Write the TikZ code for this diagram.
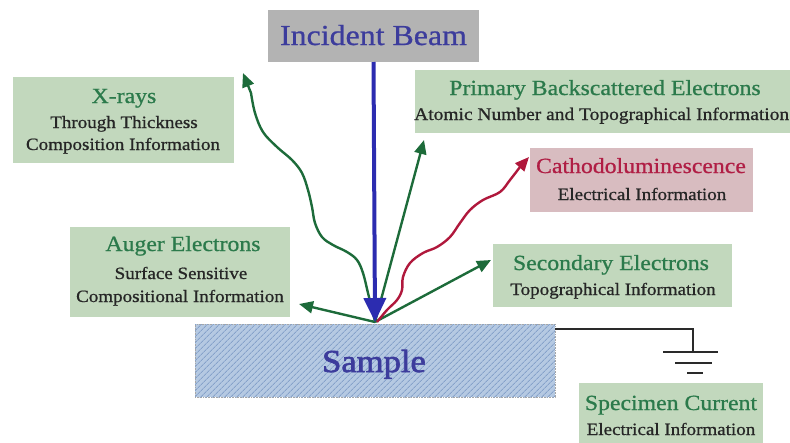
\documentclass[tikz,border=0pt]{standalone}
\usepackage{fontspec}
\setmainfont{Liberation Serif}[FakeStretch=1.1,FakeBold=0.8]
\newfontfamily\heavyserif{Liberation Serif}[FakeStretch=1.08,FakeBold=2]
\usetikzlibrary{arrows.meta,patterns.meta}

\definecolor{boxgreen}{HTML}{C2D8BD}
\definecolor{titlegreen}{HTML}{2B7A4B}
\definecolor{arrowgreen}{HTML}{1D6B3A}
\definecolor{boxpink}{HTML}{D8BCC0}
\definecolor{titlered}{HTML}{B01E45}
\definecolor{arrowred}{HTML}{B0183C}
\definecolor{boxgray}{HTML}{B3B3B3}
\definecolor{beamblue}{HTML}{2C2CB0}
\definecolor{textblue}{HTML}{3C3C9C}
\definecolor{samplefill}{HTML}{B5C9E2}
\definecolor{samplehatch}{HTML}{86A2CA}
\definecolor{bodytext}{HTML}{262626}
\definecolor{wire}{HTML}{2A2A2A}

\tikzset{
  panel/.style={rectangle, inner sep=0pt, outer sep=0pt, draw=none},
  greenpanel/.style={panel, fill=boxgreen},
  pinkpanel/.style={panel, fill=boxpink},
  graypanel/.style={panel, fill=boxgray},
  samplepanel/.style={panel, fill=samplefill, draw=gray!70, densely dotted, line width=0.6pt},
  title/.style={anchor=base, inner sep=0pt, font=\fontsize{21.6}{24}\selectfont, text=titlegreen},
  body/.style={anchor=base, inner sep=0pt, font=\fontsize{17.3}{20}\selectfont, text=bodytext},
  ray/.style={draw=arrowgreen, line width=2.4pt, -{Triangle[length=14pt,width=12pt]}},
  lightray/.style={draw=arrowred, line width=2.4pt, -{Triangle[length=14pt,width=12pt]}},
  beam/.style={draw=beamblue, line width=4pt, -{Triangle[length=24pt,width=22pt]}},
  groundbar/.style={draw=wire, line width=2.6pt},
}

\begin{document}
\begin{tikzpicture}[x=1pt,y=-1pt]
\useasboundingbox (0,0) rectangle (790,442);

% panels
\node[graypanel, minimum width=211pt, minimum height=52pt] (beambox) at (373.5,36) {};
\node[greenpanel, minimum width=221pt, minimum height=86pt] (xbox) at (123.5,120) {};
\node[greenpanel, minimum width=376pt, minimum height=63pt] (bsebox) at (603,101.5) {};
\node[pinkpanel, minimum width=223pt, minimum height=64pt] (clbox) at (641.5,180) {};
\node[greenpanel, minimum width=220pt, minimum height=90pt] (augerbox) at (180,272) {};
\node[greenpanel, minimum width=239pt, minimum height=63pt] (sebox) at (612.5,275.5) {};
\node[greenpanel, minimum width=184pt, minimum height=62pt] (scbox) at (671,414) {};

% sample with hatching
\node[samplepanel, minimum width=360pt, minimum height=73pt] (sample) at (375,360.5) {};
\fill[pattern={Lines[angle=45,distance=4pt,line width=0.9pt]}, pattern color=samplehatch]
  (sample.south west) rectangle (sample.north east);

% texts
\node[anchor=base, inner sep=0pt, font=\fontsize{29}{32}\selectfont, text=textblue] (beamlabel) at (373.5,45) {Incident Beam};
\node[anchor=base, inner sep=0pt, font=\heavyserif\fontsize{32}{36}\selectfont, text=textblue] (samplelabel) at (374,372) {Sample};

\node[title] (xt) at (124,103) {X-rays};
\node[body] (x1) at (124,128) {Through Thickness};
\node[body] (x2) at (123,150) {Composition Information};

\node[title] (bset) at (605,95) {Primary Backscattered Electrons};
\node[body, anchor=base west, font=\fontsize{17.7}{20}\selectfont] (bse1) at (414,120) {Atomic Number and Topographical Information};

\node[title, text=titlered] (clt) at (641,173) {Cathodoluminescence};
\node[body] (cl1) at (642,200) {Electrical Information};

\node[title] (at) at (183,251) {Auger Electrons};
\node[body] (a1) at (181,279) {Surface Sensitive};
\node[body] (a2) at (180,302) {Compositional Information};

\node[title] (set) at (611,270) {Secondary Electrons};
\node[body] (se1) at (613,295) {Topographical Information};

\node[title] (sct) at (671,410) {Specimen Current};
\node[body] (sc1) at (671,435) {Electrical Information};

% impact point and ray ends
\coordinate (hit) at (375,322);
\coordinate (xtip) at (243,73);
\coordinate (bsetip) at (424,140);
\coordinate (cltip) at (529,157);
\coordinate (setip) at (491,260);
\coordinate (augertip) at (299,304);

% emitted signals
\draw[ray] (hit) -- (augertip);
\draw[ray] (hit) -- (bsetip);
\draw[ray] (hit) -- (setip);
\draw[ray] plot[smooth, tension=0.6] coordinates {
  (375,322) (373,313) (368,293) (363,273) (357,260) (347,252) (333,245)
  (322,237) (315,223) (312,207) (308,190) (302,173) (292,160) (277,147)
  (263,132) (255,113) (251,93) } -- (xtip);
\draw[lightray] plot[smooth, tension=0.6] coordinates {
  (377,322) (387,310) (397,300) (402,290) (403,277) (410,263) (423,253)
  (437,247) (450,237) (460,223) (470,210) (483,200) (500,192) (510,180)
  (520,167) } -- (cltip);

% incident beam
\draw[beam] (beambox.south) -- (hit);

% specimen current to ground
\coordinate (gnd) at (693,352);
\draw[draw=wire, line width=1.4pt] (sample.north east |- 0,329) -- (693,329) -- (gnd);
\draw[groundbar] (663,352) -- (718,352);
\draw[groundbar] (675,363) -- (712,363);
\draw[groundbar] (687,373) -- (703,373);
\end{tikzpicture}
\end{document}
